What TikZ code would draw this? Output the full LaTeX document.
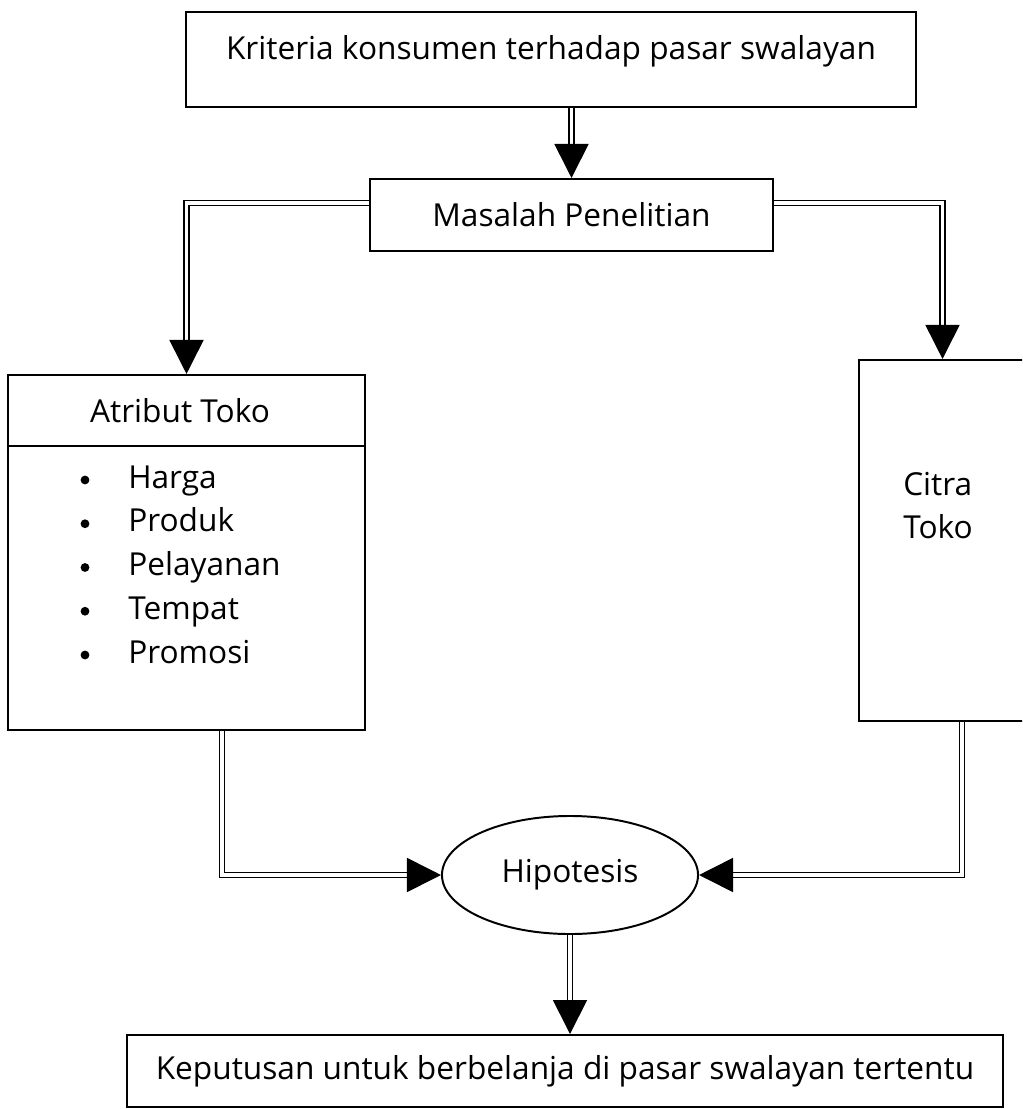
\documentclass[tikz,border=0pt]{standalone}
\usepackage{fontspec}
\setmainfont{Open Sans}
\usetikzlibrary{arrows.meta,shapes.geometric,calc}

\begin{document}
\begin{tikzpicture}
	[x=0.025cm, y=-0.025cm,
	 every node/.style={black,inner sep=0pt,font=\fontsize{22.5}{27}\selectfont},
	 kotak/.style={draw,rectangle,line width=1.4pt},
	 elips/.style={draw,ellipse,line width=1.4pt},
	 panah/.style={line width=1.2pt,double,double distance=2.4pt,-{Triangle[length=0.85cm,width=0.85cm]}},
	 titik/.style={circle,fill,minimum size=0.22cm},
	 butir/.style={anchor=west,text height=0.55cm,text depth=0.15cm} ]

\useasboundingbox (0,0) rectangle (1022,1109);
\clip (0,0) rectangle (1022,1109);

\node [kotak,minimum width=18.25cm,minimum height=2.375cm,text depth=0.6cm] (kriteria) at (551,59.5) {Kriteria konsumen terhadap pasar swalayan};
\node [kotak,minimum width=10.075cm,minimum height=1.8cm] (masalah) at (571.5,215) {Masalah Penelitian};

% kotak atribut toko
\node [kotak,minimum width=8.925cm,minimum height=8.875cm] (atribut) at (186.5,552.5) {};
\node (judul) at (180,411) {Atribut Toko};
\draw [line width=1.4pt] ($(atribut.north west)+(0,72)$) -- ($(atribut.north east)+(0,72)$);
\foreach \isi [count=\i] in {Harga,Produk,Pelayanan,Tempat,Promosi} {
  \node [titik] (titik\i) at (85,{480+43.75*(\i-1)}) {};
  \node [butir] (butir\i) at (128,{480+43.75*(\i-1)}) {\isi};
}

% kotak citra toko
\node [kotak,minimum width=4.175cm,minimum height=9.025cm] (citra) at (942.5,540.5) {};
\node [align=left,font=\fontsize{22.5}{30.6}\selectfont] (citrateks) at (938,506) {Citra\\Toko};

\node [elips,minimum width=6.4cm,minimum height=2.95cm] (hipotesis) at (570,875) {Hipotesis};
\node [kotak,minimum width=21.9cm,minimum height=1.8cm] (keputusan) at (565,1071) {Keputusan untuk berbelanja di pasar swalayan tertentu};

\draw [panah] (masalah.north |- kriteria.south) -- (masalah.north);
\draw [panah] ([yshift=0.3cm]masalah.west) -| (atribut.north);
\draw [panah] ([yshift=0.3cm]masalah.east) -| (citra.north);
\draw [panah] ([xshift=0.89cm]atribut.south) |- (hipotesis.west);
\draw [panah] ([xshift=0.49cm]citra.south) |- (hipotesis.east);
\draw [panah] (hipotesis.south) -- (hipotesis.south |- keputusan.north);

\end{tikzpicture}
\end{document}
